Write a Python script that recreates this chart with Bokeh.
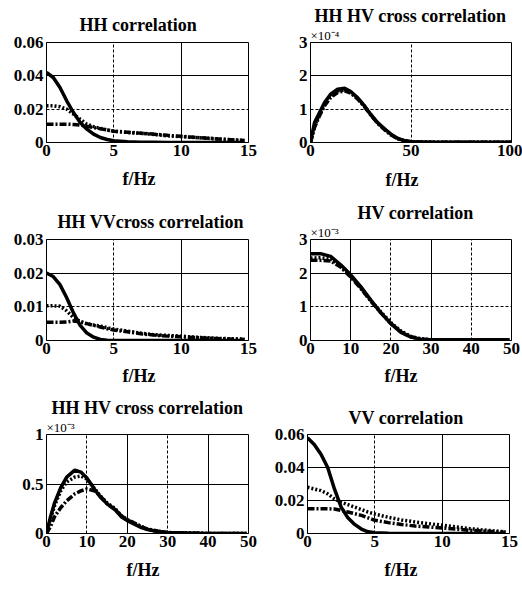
from bokeh.plotting import figure
from bokeh.layouts import column, row
from bokeh.models import Range1d, FixedTicker, Grid, CustomJSTickFormatter, Title
from bokeh.embed import file_html
from bokeh.resources import INLINE

# ---------------- data ----------------
# Panel 1: HH correlation
x_hh = [0, 0.5, 1, 1.5, 2, 2.5, 3, 3.5, 4, 4.5, 5, 6, 7, 8, 9, 10, 11, 12, 13, 14, 14.7]
hh_solid = [0.042, 0.039, 0.033, 0.025, 0.018, 0.012, 0.008, 0.005, 0.003, 0.0018, 0.001,
            0.0004, 0.0002, 0.0001, 0, 0, 0, 0, 0, 0, 0]
hh_dot = [0.022, 0.022, 0.0215, 0.020, 0.017, 0.014, 0.011, 0.0095, 0.0085, 0.0075, 0.0068,
          0.006, 0.0055, 0.0048, 0.004, 0.0035, 0.003, 0.0025, 0.002, 0.0015, 0.0012]
hh_dashdot = [0.011, 0.011, 0.011, 0.011, 0.0108, 0.0105, 0.0098, 0.009, 0.0082, 0.0075, 0.0068,
              0.0062, 0.0056, 0.005, 0.0043, 0.0037, 0.0031, 0.0026, 0.002, 0.0015, 0.0012]

# Panel 2: HH HV cross correlation (values in units of 1e-4)
x_hhhv = [0, 2, 4.5, 7, 10, 13.5, 17, 20, 23.5, 27, 30, 33.5, 37, 40, 43.5, 47, 50, 60, 70, 80, 90, 100]
hhhv_solid = [0, 0.6, 0.9, 1.2, 1.45, 1.6, 1.63, 1.53, 1.34, 1.09, 0.84, 0.59, 0.40, 0.25, 0.12,
              0.05, 0.02, 0.01, 0.01, 0.01, 0.01, 0.01]
hhhv_dot = [0, 0.5, 0.85, 1.15, 1.4, 1.55, 1.58, 1.5, 1.32, 1.08, 0.83, 0.58, 0.38, 0.23, 0.11,
            0.05, 0.02, 0.01, 0.01, 0.01, 0.01, 0.01]
hhhv_dashdot = [0, 0.45, 0.8, 1.1, 1.35, 1.5, 1.55, 1.48, 1.3, 1.06, 0.82, 0.57, 0.38, 0.23, 0.11,
                0.05, 0.02, 0.01, 0.01, 0.01, 0.01, 0.01]

# Panel 3: HH VV cross correlation
x_hhvv = [0, 0.5, 1, 1.5, 2, 2.5, 3, 3.5, 4, 4.5, 5, 6, 7, 8, 9, 10, 11, 12, 13, 14, 14.7]
hhvv_solid = [0.020, 0.019, 0.0166, 0.0127, 0.0082, 0.0045, 0.0022, 0.001, 0.0003, 0.0001, 0,
              0, 0, 0, 0, 0, 0, 0, 0, 0, 0]
hhvv_dot = [0.0103, 0.0103, 0.0102, 0.0088, 0.0068, 0.0057, 0.0049, 0.0046, 0.0043, 0.0038, 0.0034,
            0.0028, 0.0022, 0.0017, 0.0015, 0.0013, 0.001, 0.0008, 0.0006, 0.0005, 0.0004]
hhvv_dashdot = [0.0054, 0.0054, 0.0054, 0.0055, 0.0058, 0.0055, 0.005, 0.0045, 0.004, 0.0035, 0.0031,
                0.0026, 0.002, 0.0016, 0.0013, 0.0011, 0.0009, 0.0007, 0.0005, 0.0004, 0.0003]

# Panel 4: HV correlation (values in units of 1e-3)
x_hv = [0, 2.5, 5, 7.5, 10, 12.5, 15, 17.5, 20, 22.5, 25, 27.5, 30, 35, 40, 45, 49.5]
hv_solid = [2.58, 2.58, 2.5, 2.25, 1.95, 1.6, 1.2, 0.82, 0.5, 0.24, 0.1, 0.04, 0.02, 0.02, 0.02, 0.02, 0.02]
hv_dot = [2.45, 2.46, 2.42, 2.22, 1.92, 1.57, 1.18, 0.85, 0.53, 0.28, 0.12, 0.05, 0.02, 0.02, 0.02, 0.02, 0.02]
hv_dashdot = [2.38, 2.38, 2.36, 2.18, 1.88, 1.55, 1.17, 0.83, 0.5, 0.26, 0.11, 0.04, 0.02, 0.02, 0.02, 0.02, 0.02]

# Panel 5: HH HV cross correlation (values in units of 1e-3)
x_hhhv2 = [0, 1, 2, 3.5, 5, 7, 8.5, 10, 12, 13.5, 15, 17, 18.5, 20, 22, 23.5, 25, 27.5, 30, 35, 40, 45, 49.5]
hhhv2_solid = [0, 0.17, 0.31, 0.46, 0.57, 0.64, 0.62, 0.56, 0.44, 0.36, 0.3, 0.24, 0.17, 0.13, 0.09,
               0.06, 0.04, 0.02, 0.01, 0.005, 0, 0, 0]
hhhv2_dot = [0, 0.15, 0.28, 0.43, 0.52, 0.57, 0.58, 0.55, 0.45, 0.37, 0.31, 0.25, 0.18, 0.14, 0.1,
             0.07, 0.045, 0.02, 0.01, 0.005, 0, 0, 0]
hhhv2_dashdot = [0, 0.07, 0.17, 0.26, 0.33, 0.40, 0.43, 0.45, 0.43, 0.37, 0.3, 0.24, 0.18, 0.14, 0.1,
                 0.07, 0.045, 0.025, 0.01, 0.005, 0, 0, 0]

# Panel 6: VV correlation
x_vv = [0, 0.5, 1, 1.5, 2, 2.5, 3, 3.5, 4, 4.5, 5, 6, 7, 8, 9, 10, 11, 12, 13, 14, 14.7]
vv_solid = [0.058, 0.054, 0.048, 0.040, 0.027, 0.016, 0.0095, 0.0055, 0.0027, 0.001, 0.0004,
            0.0001, 0, 0, 0, 0, 0, 0, 0, 0, 0]
vv_dot = [0.028, 0.027, 0.026, 0.024, 0.021, 0.019, 0.0175, 0.016, 0.0145, 0.013, 0.0118,
          0.0098, 0.0082, 0.007, 0.006, 0.005, 0.004, 0.003, 0.0022, 0.0015, 0.001]
vv_dashdot = [0.015, 0.015, 0.015, 0.015, 0.0148, 0.014, 0.013, 0.012, 0.011, 0.0095, 0.008,
              0.0066, 0.0055, 0.0045, 0.004, 0.0033, 0.0027, 0.002, 0.0015, 0.001, 0.0008]

titles = ["HH correlation", "HH HV cross correlation", "HH VVcross correlation",
          "HV correlation", "HH HV cross correlation", "VV correlation"]
x_ticks = [[0, 5, 10, 15], [0, 50, 100], [0, 5, 10, 15],
           [0, 10, 20, 30, 40, 50], [0, 10, 20, 30, 40, 50], [0, 5, 10, 15]]
y_ticks = [[0, 0.02, 0.04, 0.06], [0, 1, 2, 3], [0, 0.01, 0.02, 0.03],
           [0, 1, 2, 3], [0, 0.5, 1], [0, 0.02, 0.04, 0.06]]
exponent_labels = [None, "\u00d710\u207b\u2074", None, "\u00d710\u207b\u00b3", "\u00d710\u207b\u00b3", None]
x_label = "f/Hz"

# ---------------- styling / layout ----------------
FONT = "Liberation Serif"
grid_x_solid = [[10], [], [10], [10, 30], [20, 40], [10]]
grid_x_dash = [[5], [50], [5], [20, 40], [10, 30], [5]]
grid_y_solid = [[0.04], [2], [0.02], [2], [0.5], [0.02, 0.04]]
grid_y_dash = [[0.02], [1], [0.01], [1], [], []]

# (border_left, frame_w, border_right, border_top, frame_h, border_bottom)
layout = [
    (46, 202, 13, 42, 103, 53), (49, 201, 11, 42, 101, 55),
    (46, 202, 13, 41, 102, 52), (49, 201, 11, 41, 102, 52),
    (46, 202, 13, 41, 100, 54), (46, 202, 13, 40, 101, 54),
]
title_standoffs = [16, 0, 15, 0, 0, 14]
xlabel_standoffs = [16, 18, 15, 15, 17, 17]
title_offsets = [33, 4, 11, 47, 5, 41]
xlabel_offsets = [76, 75, 76, 74, 80, 77]

series = [
    (x_hh, hh_solid, hh_dot, hh_dashdot),
    (x_hhhv, hhhv_solid, hhhv_dot, hhhv_dashdot),
    (x_hhvv, hhvv_solid, hhvv_dot, hhvv_dashdot),
    (x_hv, hv_solid, hv_dot, hv_dashdot),
    (x_hhhv2, hhhv2_solid, hhhv2_dot, hhhv2_dashdot),
    (x_vv, vv_solid, vv_dot, vv_dashdot),
]

fmt_code = "return String(Number(tick.toFixed(6)));"


def build(i):
    bl, fw, br, bt, fh, bb = layout[i]
    xmax = x_ticks[i][-1]
    ymax = y_ticks[i][-1]
    p = figure(width=bl + fw + br, height=bt + fh + bb, title=None,
               min_border_left=bl, min_border_right=br,
               min_border_top=bt, min_border_bottom=bb,
               x_range=Range1d(0, xmax), y_range=Range1d(0, ymax),
               output_backend="svg", toolbar_location=None,
               background_fill_color="white", border_fill_color="white",
               outline_line_color="black", outline_line_width=1)
    xa = p.xaxis[0]
    ya = p.yaxis[0]

    if exponent_labels[i]:
        p.add_layout(Title(text=exponent_labels[i], align="left", offset=0, standoff=0,
                           text_font=FONT, text_font_size="13px", text_font_style="normal",
                           text_color="black", text_line_height=1.0), "above")
    p.add_layout(Title(text=titles[i], align="left", offset=title_offsets[i],
                       standoff=title_standoffs[i],
                       text_font=FONT, text_font_size="18px", text_font_style="bold",
                       text_color="black", text_line_height=1.0), "above")

    # x-axis label below the tick labels
    p.add_layout(Title(text=x_label, align="left", offset=xlabel_offsets[i],
                       standoff=xlabel_standoffs[i],
                       text_font=FONT, text_font_size="18px", text_font_style="bold",
                       text_color="black", text_line_height=1.0), "below")

    p.xgrid.visible = False
    p.ygrid.visible = False
    for ticks, dim, dash in [(grid_x_solid[i], 0, "solid"), (grid_x_dash[i], 0, "3 2"),
                             (grid_y_solid[i], 1, "solid"), (grid_y_dash[i], 1, "3 2")]:
        if ticks:
            p.add_layout(Grid(dimension=dim, ticker=FixedTicker(ticks=ticks),
                              grid_line_color="black", grid_line_width=1,
                              grid_line_dash=dash))

    for ax in (xa, ya):
        ax.axis_line_color = "black"
        ax.major_tick_in = 0
        ax.major_tick_out = 0
        ax.minor_tick_in = 0
        ax.minor_tick_out = 0
        ax.major_label_text_font = FONT
        ax.major_label_text_font_size = "17px"
        ax.major_label_text_font_style = "bold"
        ax.major_label_text_color = "black"
        ax.formatter = CustomJSTickFormatter(code=fmt_code)
    xa.ticker = FixedTicker(ticks=x_ticks[i])
    ya.ticker = FixedTicker(ticks=y_ticks[i])
    xa.major_label_standoff = 2
    ya.major_label_standoff = 3

    xs, s_solid, s_dot, s_dd = series[i]
    p.line(xs, s_dd, line_color="black", line_width=3.5, line_dash="7 2 2 2")
    p.line(xs, s_dot, line_color="black", line_width=3.5, line_dash="2 2")
    p.line(xs, s_solid, line_color="black", line_width=3.5)
    return p


figs = [build(i) for i in range(6)]
page = column(row(figs[0], figs[1]), row(figs[2], figs[3]), row(figs[4], figs[5]))
open("out.html", "w").write(file_html(page, INLINE))
